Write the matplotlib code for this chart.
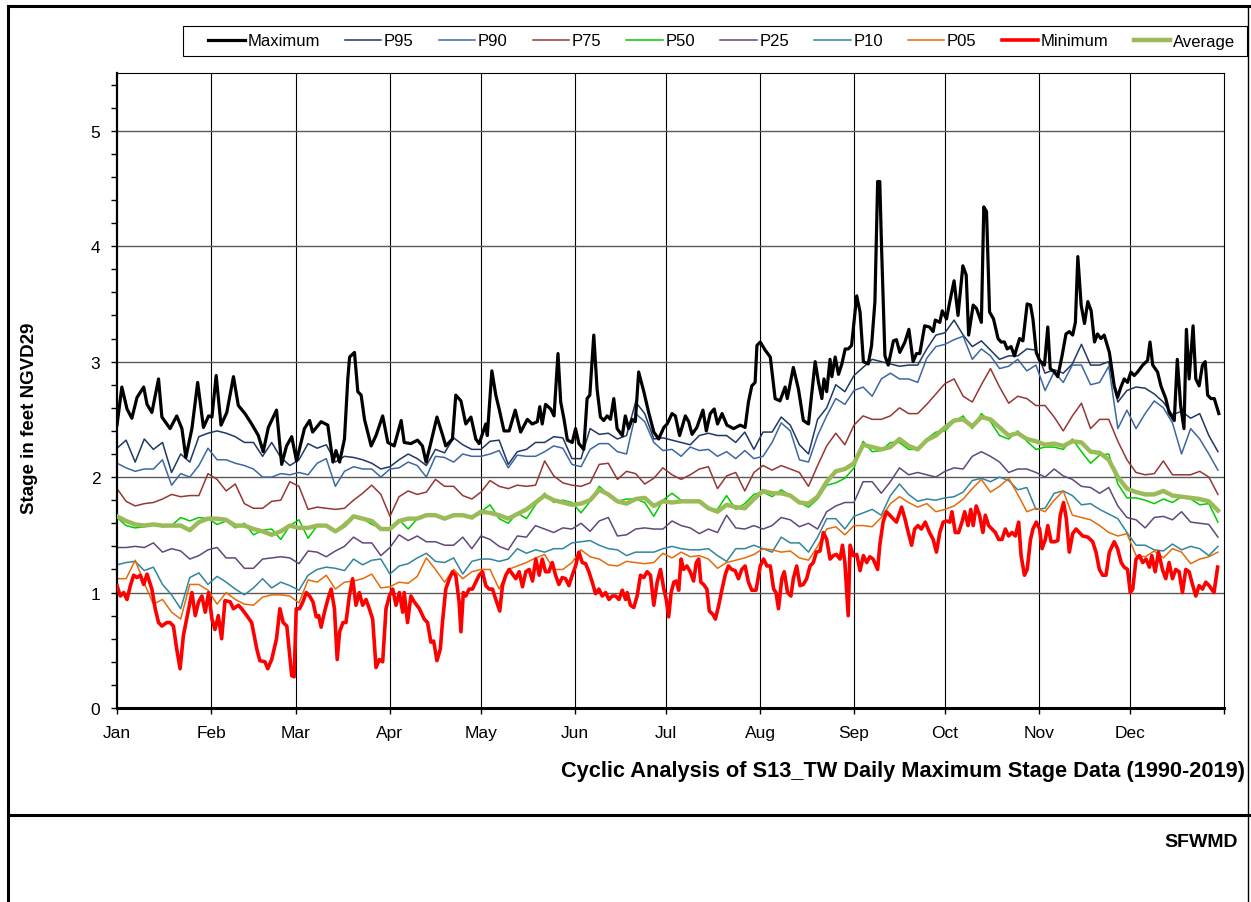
import numpy as np
import matplotlib
matplotlib.use("Agg")
import matplotlib.pyplot as plt
from matplotlib.lines import Line2D
from matplotlib.patches import Rectangle

plt.rcParams["font.family"] = ["Liberation Sans", "DejaVu Sans"]

# month tick positions (day of year) and labels
month_days = [0, 31, 59, 90, 120, 151, 181, 212, 243, 273, 304, 334]
month_labels = ["Jan", "Feb", "Mar", "Apr", "May", "Jun", "Jul", "Aug", "Sep", "Oct", "Nov", "Dec"]

# percentile curves, read every 3rd day (day 0, 3, ... 363)
grid_days = np.arange(0, 364, 3)

p95 = [2.25, 2.32, 2.13, 2.33, 2.24, 2.30, 2.04, 2.20, 2.13, 2.35, 2.38, 2.40, 2.38, 2.35, 2.30, 2.30, 2.18, 2.30, 2.17, 2.10, 2.15,
       2.29, 2.25, 2.28, 2.13, 2.18, 2.17, 2.15, 2.12, 2.07, 2.09, 2.15, 2.20, 2.16, 2.10, 2.24, 2.21, 2.34, 2.28, 2.24, 2.24,
       2.31, 2.32, 2.11, 2.22, 2.24, 2.30, 2.30, 2.35, 2.34, 2.16, 2.16, 2.42, 2.37, 2.38, 2.33, 2.36, 2.65, 2.55, 2.33, 2.34,
       2.32, 2.30, 2.28, 2.36, 2.38, 2.36, 2.36, 2.30, 2.39, 2.24, 2.39, 2.39, 2.52, 2.45, 2.28, 2.20, 2.50, 2.60, 2.80, 2.74, 2.88,
       2.95, 3.02, 3.00, 2.98, 2.96, 2.97, 2.97, 3.11, 3.23, 3.25, 3.36, 3.23, 3.13, 3.18, 3.10, 3.02, 3.05, 3.05, 3.11, 3.10, 2.90,
       2.93, 2.90, 2.98, 3.15, 2.97, 2.97, 3.00, 2.65, 2.75, 2.78, 2.77, 2.72, 2.65, 2.54, 2.57, 2.51, 2.55, 2.36, 2.22]

p90 = [2.12, 2.08, 2.05, 2.07, 2.07, 2.15, 1.93, 2.03, 2.00, 2.10, 2.25, 2.15, 2.15, 2.12, 2.10, 2.07, 2.00, 2.00, 2.03, 2.02, 2.04,
       2.02, 2.12, 2.16, 1.92, 2.05, 2.09, 2.07, 2.07, 2.00, 2.07, 2.08, 2.13, 2.10, 2.00, 2.18, 2.17, 2.13, 2.20, 2.18, 2.18,
       2.20, 2.23, 2.08, 2.19, 2.18, 2.18, 2.22, 2.27, 2.25, 2.11, 2.09, 2.24, 2.29, 2.29, 2.22, 2.20, 2.55, 2.48, 2.30, 2.23,
       2.24, 2.18, 2.26, 2.23, 2.24, 2.18, 2.22, 2.16, 2.23, 2.16, 2.18, 2.30, 2.47, 2.40, 2.15, 2.13, 2.36, 2.53, 2.68, 2.63, 2.75,
       2.78, 2.70, 2.85, 2.90, 2.85, 2.85, 2.82, 3.03, 3.13, 3.15, 3.19, 3.22, 3.02, 3.11, 3.05, 2.94, 2.96, 3.02, 2.92, 2.97, 2.75,
       2.91, 2.82, 2.97, 2.97, 2.80, 2.82, 2.96, 2.42, 2.58, 2.42, 2.55, 2.66, 2.60, 2.47, 2.20, 2.42, 2.33, 2.20, 2.06]

p75 = [1.90, 1.79, 1.75, 1.77, 1.78, 1.81, 1.85, 1.83, 1.84, 1.84, 2.03, 1.98, 1.88, 1.94, 1.77, 1.73, 1.73, 1.79, 1.80, 1.96, 1.92,
       1.72, 1.74, 1.73, 1.72, 1.73, 1.80, 1.86, 1.93, 1.85, 1.66, 1.83, 1.88, 1.85, 1.87, 1.98, 1.92, 1.92, 1.84, 1.81, 1.87,
       1.97, 1.92, 1.90, 1.93, 1.92, 1.93, 2.14, 2.01, 1.95, 1.93, 1.92, 1.95, 2.11, 2.12, 1.98, 2.05, 2.03, 1.94, 1.99, 2.08,
       2.02, 1.98, 2.02, 2.07, 2.09, 1.90, 2.01, 2.04, 1.88, 2.04, 2.10, 2.06, 2.10, 2.07, 2.04, 1.92, 2.10, 2.27, 2.38, 2.28, 2.45,
       2.53, 2.50, 2.50, 2.53, 2.60, 2.55, 2.55, 2.63, 2.72, 2.81, 2.85, 2.70, 2.65, 2.80, 2.94, 2.78, 2.64, 2.70, 2.68, 2.62, 2.62,
       2.52, 2.40, 2.53, 2.64, 2.42, 2.50, 2.50, 2.31, 2.15, 2.04, 2.02, 2.03, 2.14, 2.02, 2.02, 2.02, 2.05, 2.00, 1.85]

p50 = [1.65, 1.58, 1.56, 1.57, 1.59, 1.57, 1.58, 1.65, 1.62, 1.65, 1.64, 1.59, 1.62, 1.56, 1.60, 1.50, 1.54, 1.55, 1.46, 1.58, 1.63,
       1.47, 1.58, 1.58, 1.53, 1.60, 1.66, 1.64, 1.59, 1.56, 1.55, 1.63, 1.55, 1.64, 1.67, 1.67, 1.64, 1.66, 1.68, 1.64, 1.70,
       1.76, 1.64, 1.60, 1.69, 1.64, 1.76, 1.86, 1.78, 1.80, 1.78, 1.69, 1.79, 1.92, 1.85, 1.79, 1.81, 1.81, 1.78, 1.66, 1.80,
       1.86, 1.80, 1.79, 1.80, 1.72, 1.72, 1.84, 1.72, 1.77, 1.85, 1.87, 1.83, 1.89, 1.84, 1.78, 1.74, 1.81, 1.93, 1.95, 1.99, 2.08,
       2.31, 2.22, 2.23, 2.30, 2.30, 2.24, 2.24, 2.33, 2.39, 2.40, 2.48, 2.53, 2.42, 2.55, 2.48, 2.36, 2.33, 2.40, 2.31, 2.24, 2.26,
       2.26, 2.24, 2.33, 2.22, 2.12, 2.19, 2.20, 1.94, 1.82, 1.82, 1.80, 1.77, 1.81, 1.78, 1.83, 1.81, 1.76, 1.77, 1.61]

p25 = [1.39, 1.39, 1.40, 1.39, 1.43, 1.35, 1.38, 1.36, 1.29, 1.32, 1.37, 1.39, 1.30, 1.30, 1.21, 1.21, 1.29, 1.30, 1.31, 1.30, 1.25,
       1.36, 1.35, 1.31, 1.36, 1.40, 1.48, 1.43, 1.43, 1.32, 1.39, 1.50, 1.45, 1.49, 1.44, 1.44, 1.41, 1.41, 1.48, 1.38, 1.49,
       1.46, 1.40, 1.37, 1.49, 1.48, 1.58, 1.55, 1.52, 1.56, 1.55, 1.60, 1.53, 1.62, 1.65, 1.49, 1.50, 1.55, 1.56, 1.55, 1.55,
       1.62, 1.58, 1.56, 1.51, 1.55, 1.52, 1.67, 1.56, 1.55, 1.58, 1.55, 1.58, 1.65, 1.63, 1.57, 1.60, 1.55, 1.70, 1.75, 1.78, 1.78,
       1.96, 1.96, 1.86, 1.96, 2.08, 2.02, 2.04, 2.02, 2.00, 2.05, 2.08, 2.07, 2.18, 2.22, 2.18, 2.13, 2.04, 2.07, 2.07, 2.04, 2.00,
       2.07, 2.01, 1.98, 1.92, 1.91, 1.86, 1.91, 1.75, 1.65, 1.63, 1.56, 1.65, 1.66, 1.63, 1.70, 1.61, 1.60, 1.59, 1.48]

p10 = [1.24, 1.26, 1.27, 1.19, 1.22, 1.07, 0.98, 0.86, 1.13, 1.17, 1.07, 1.14, 1.09, 1.03, 0.98, 1.04, 1.12, 1.04, 1.09, 1.06, 1.02,
       1.15, 1.20, 1.22, 1.21, 1.19, 1.29, 1.24, 1.28, 1.29, 1.16, 1.23, 1.25, 1.30, 1.34, 1.27, 1.26, 1.30, 1.16, 1.27, 1.29,
       1.29, 1.27, 1.29, 1.38, 1.34, 1.37, 1.35, 1.38, 1.38, 1.43, 1.44, 1.45, 1.41, 1.38, 1.37, 1.32, 1.35, 1.35, 1.35, 1.38,
       1.40, 1.38, 1.37, 1.37, 1.38, 1.32, 1.27, 1.38, 1.38, 1.41, 1.38, 1.35, 1.48, 1.43, 1.43, 1.35, 1.48, 1.64, 1.64, 1.55, 1.66,
       1.69, 1.72, 1.67, 1.84, 1.94, 1.85, 1.79, 1.81, 1.80, 1.82, 1.83, 1.87, 1.97, 1.99, 1.96, 2.00, 1.97, 1.89, 1.91, 1.72, 1.73,
       1.86, 1.88, 1.84, 1.76, 1.77, 1.72, 1.68, 1.64, 1.52, 1.41, 1.41, 1.37, 1.36, 1.42, 1.37, 1.40, 1.38, 1.32, 1.40]

p05 = [1.12, 1.12, 1.28, 1.08, 0.90, 0.94, 0.83, 0.77, 1.07, 1.07, 1.02, 0.90, 1.00, 0.94, 0.90, 0.89, 0.96, 0.98, 0.98, 0.97, 0.91,
       1.11, 1.09, 1.15, 1.03, 1.09, 1.10, 1.12, 1.16, 1.04, 1.05, 1.09, 1.08, 1.14, 1.30, 1.20, 1.09, 1.20, 1.12, 1.18, 1.20,
       1.20, 1.03, 1.20, 1.23, 1.26, 1.30, 1.33, 1.20, 1.20, 1.26, 1.37, 1.31, 1.29, 1.24, 1.23, 1.27, 1.26, 1.25, 1.26, 1.34,
       1.30, 1.35, 1.31, 1.32, 1.29, 1.21, 1.26, 1.28, 1.30, 1.33, 1.38, 1.37, 1.35, 1.36, 1.30, 1.28, 1.40, 1.55, 1.57, 1.50, 1.58,
       1.58, 1.57, 1.65, 1.77, 1.83, 1.78, 1.74, 1.77, 1.70, 1.72, 1.75, 1.81, 1.90, 1.98, 1.87, 1.92, 1.99, 1.85, 1.70, 1.73, 1.70,
       1.80, 1.88, 1.67, 1.65, 1.63, 1.58, 1.52, 1.49, 1.51, 1.32, 1.31, 1.36, 1.30, 1.38, 1.35, 1.25, 1.29, 1.31, 1.35]

average = [1.66, 1.62, 1.59, 1.58, 1.59, 1.58, 1.58, 1.58, 1.54, 1.61, 1.64, 1.64, 1.63, 1.58, 1.58, 1.55, 1.53, 1.50, 1.53, 1.58, 1.56,
           1.56, 1.58, 1.58, 1.53, 1.58, 1.66, 1.64, 1.62, 1.55, 1.55, 1.62, 1.64, 1.64, 1.67, 1.67, 1.64, 1.67, 1.67, 1.65, 1.70,
           1.69, 1.67, 1.64, 1.68, 1.72, 1.78, 1.84, 1.80, 1.78, 1.76, 1.77, 1.80, 1.89, 1.85, 1.79, 1.77, 1.81, 1.82, 1.75, 1.79,
           1.78, 1.79, 1.79, 1.79, 1.73, 1.70, 1.76, 1.74, 1.73, 1.81, 1.88, 1.86, 1.86, 1.84, 1.78, 1.77, 1.83, 1.96, 2.05, 2.07, 2.12,
           2.28, 2.26, 2.24, 2.26, 2.33, 2.27, 2.24, 2.32, 2.36, 2.43, 2.49, 2.50, 2.44, 2.52, 2.50, 2.43, 2.36, 2.38, 2.33, 2.31, 2.28,
           2.29, 2.27, 2.31, 2.30, 2.22, 2.21, 2.15, 2.00, 1.90, 1.87, 1.85, 1.85, 1.88, 1.84, 1.83, 1.82, 1.81, 1.79, 1.71]

# maximum and minimum, read at their turning points
max_days = [0, 1.6, 3.3, 4.9, 6.6, 8.8, 9.9, 11.5, 13.7, 14.8, 17.5, 19.7, 21.4, 22.7, 24.7, 26.6, 28.5, 30.2, 31.3, 32.7,
            34.3, 36.2, 38.4, 40.0, 42.2, 44.4, 46.6, 48.2, 49.9, 52.6, 54.3, 55.9, 57.6, 59.2,
            61.8, 63.5, 64.5, 67.3, 69.5, 71.2, 72.2, 73.4, 75.0, 76.1, 76.7, 78.3, 79.4, 80.5, 81.6, 83.8, 85.4, 87.6,
            89.3, 91.4, 93.7, 94.7, 96.9, 99.1, 100.7, 101.9, 103.5, 105.5, 107.4, 108.4, 110.6, 111.7, 113.4, 115.0,
            116.7, 118.3,
            119.4, 121.6, 122.1, 123.6, 124.9, 126.0, 127.6, 129.3, 131.3, 133.1, 135.3, 136.9, 138.6, 139.4, 140.2,
            141.3, 143.0, 144.1, 145.4, 146.3, 147.4, 148.5, 150.1, 151.2, 152.3, 153.9, 155.0, 155.9, 157.2, 158.3,
            159.4, 160.5, 161.6, 162.7, 163.8, 164.9, 166.6, 167.6, 168.7, 169.8, 170.9, 172.0, 173.7, 175.3, 177.0, 178.6,
            180.3, 181.4, 183.0, 184.1, 185.5, 187.4, 188.5, 189.6, 191.2, 193.2, 194.3, 195.6, 196.9, 198.0, 199.5,
            201.1, 203.3, 205.5, 207.1, 208.2, 209.3, 210.4, 211.0, 212.1, 213.7, 215.4, 217.0, 218.6, 220.3, 221.0,
            223.0, 224.7, 226.3, 228.0, 230.2, 231.3, 232.4, 233.1, 234.0, 235.1, 235.7, 236.8, 237.9, 239.0, 240.1,
            241.1, 242.2, 243.9, 245.0, 246.1, 247.7, 248.8, 249.9, 250.8, 251.5, 252.1, 253.2, 254.3, 256.0, 257.0,
            258.1, 259.8, 261.1, 262.5, 263.6, 264.7, 266.3, 267.9, 269.1, 269.8, 271.3, 272.1, 273.5, 274.6, 276.0,
            277.3, 278.9, 280.0, 280.8, 282.3, 283.4, 285.0, 285.8, 286.7, 287.7, 289.0, 290.5, 291.5, 292.6, 293.5,
            294.8, 295.9, 297.6, 298.7, 300.1, 301.2,
            302.0, 303.1, 304.2, 305.8, 306.9, 307.7, 309.1, 310.2, 311.6, 312.9, 314.0, 315.1, 316.0, 316.8, 317.9,
            319.0, 320.1, 321.2, 322.3, 323.3, 324.4, 325.5, 327.2, 328.8, 329.9, 331.0, 332.1, 333.2, 334.3, 335.4,
            336.5, 338.2, 339.8, 340.6, 341.5, 343.1, 344.2, 345.8, 346.9, 348.6, 349.6, 350.7, 351.8, 352.6, 353.5,
            354.8, 355.7, 356.8, 357.9, 358.8, 359.6, 360.7, 361.8, 363.3]
max_vals = [2.45, 2.78, 2.59, 2.51, 2.69, 2.78, 2.63, 2.56, 2.85, 2.52, 2.42, 2.53, 2.42, 2.17, 2.42, 2.82, 2.43, 2.53, 2.52, 2.88,
            2.45, 2.56, 2.87, 2.62, 2.55, 2.46, 2.36, 2.22, 2.43, 2.58, 2.11, 2.27, 2.35, 2.14,
            2.42, 2.49, 2.39, 2.48, 2.45, 2.13, 2.23, 2.13, 2.33, 2.85, 3.04, 3.08, 2.74, 2.71, 2.50, 2.27, 2.36, 2.53,
            2.30, 2.27, 2.49, 2.30, 2.29, 2.32, 2.27, 2.13, 2.30, 2.52, 2.36, 2.27, 2.33, 2.71, 2.66, 2.46,
            2.52, 2.33,
            2.29, 2.46, 2.36, 2.92, 2.71, 2.59, 2.40, 2.40, 2.58, 2.39, 2.50, 2.46, 2.48, 2.61, 2.46,
            2.63, 2.59, 2.53, 3.07, 2.65, 2.50, 2.32, 2.30, 2.42, 2.29, 2.24, 2.68, 2.71, 3.23, 2.76,
            2.52, 2.49, 2.53, 2.50, 2.68, 2.42, 2.36, 2.53, 2.42, 2.50, 2.48, 2.91, 2.74, 2.56, 2.39, 2.33,
            2.43, 2.46, 2.55, 2.53, 2.36, 2.53, 2.48, 2.37, 2.43, 2.58, 2.40, 2.55, 2.59, 2.46, 2.55,
            2.45, 2.42, 2.45, 2.43, 2.65, 2.79, 2.82, 3.14, 3.17, 3.10, 3.04, 2.68, 2.66, 2.78, 2.68,
            2.95, 2.76, 2.49, 2.46, 3.00, 2.82, 2.68, 2.85, 2.74, 3.02, 2.87, 3.04, 2.89, 2.98, 3.11,
            3.11, 3.14, 3.57, 3.43, 3.00, 2.98, 3.14, 3.52, 4.56, 4.56, 3.98, 3.05, 2.97, 3.18, 3.19,
            3.08, 3.17, 3.28, 3.00, 3.07, 3.07, 3.31, 3.30, 3.26, 3.36, 3.34, 3.44, 3.37, 3.52, 3.70,
            3.40, 3.83, 3.75, 3.23, 3.49, 3.46, 3.34, 4.34, 4.30, 3.43, 3.37, 3.20, 3.17, 3.17, 3.11,
            3.13, 3.05, 3.20, 3.18, 3.50, 3.49,
            3.37, 3.08, 3.01, 2.97, 3.30, 2.94, 2.91, 2.87, 3.05, 3.24, 3.26, 3.23, 3.34, 3.91, 3.49,
            3.33, 3.52, 3.44, 3.17, 3.24, 3.20, 3.23, 3.08, 2.79, 2.69, 2.78, 2.85, 2.82, 2.91, 2.88,
            2.91, 2.97, 3.01, 3.17, 2.97, 2.91, 2.79, 2.68, 2.56, 2.49, 3.02, 2.62, 2.42, 3.28, 2.85,
            3.31, 2.85, 2.79, 2.97, 3.00, 2.71, 2.68, 2.68, 2.55]

min_days = [0, 1.1, 2.2, 3.3, 4.4, 5.5, 6.6, 7.7, 8.8, 9.9, 11.5, 12.6, 13.7, 14.8, 16.4, 17.5, 18.6, 19.7, 20.8, 21.9,
            23.4, 24.7, 25.8, 26.9, 28.0, 29.1, 30.2, 31.3, 32.3, 33.4, 34.5, 35.6, 37.3, 38.4, 40.0, 41.1, 42.8, 44.4,
            46.1, 47.1, 48.8, 49.7, 51.0, 52.6, 53.7, 54.8, 56.0, 57.6, 58.4,
            59.1, 60.2, 61.3, 62.4, 63.5, 64.6, 65.7, 66.5, 67.3, 68.4, 69.5, 70.6, 71.7, 72.6, 73.4, 74.5, 75.5, 76.6,
            77.7, 78.8, 79.9, 81.0, 82.1, 83.2, 84.3, 85.4, 86.5, 87.6, 88.7, 89.8, 90.9, 92.0, 93.1, 94.2, 94.7, 95.8,
            96.9, 98.0, 99.7, 101.3, 102.4, 103.5, 104.4, 105.5, 106.6, 107.3, 108.4, 109.6, 110.6, 111.7, 112.8, 113.4,
            114.2, 115.0, 116.1, 117.2, 118.3, 119.4,
            120.5, 121.6, 122.7, 123.8, 124.9, 126.2, 127.1, 128.2, 129.3, 130.4, 131.5, 132.6, 133.7, 134.8, 135.9,
            137.0, 138.1, 139.2, 140.2, 141.3, 142.4, 143.5, 144.6, 145.7, 146.8, 147.9, 149.0, 150.1, 151.2, 152.3,
            153.4, 154.5, 155.6, 156.7, 157.8, 158.9, 160.0, 161.1, 162.2, 163.3, 164.4, 165.5, 166.6, 167.7, 168.2,
            169.3, 170.4, 171.5, 172.6, 173.7, 174.8, 175.9, 177.0, 178.1, 179.2, 180.3,
            181.1, 181.9, 182.7, 183.6, 184.4, 185.2, 186.0, 186.8, 187.9, 189.0, 190.1, 191.0, 191.8, 192.5, 193.4,
            194.5, 195.3, 196.5, 197.3, 198.4, 199.5, 200.6, 201.6, 202.7, 203.8, 204.9, 206.0, 207.1, 208.2, 209.3,
            210.7, 212.1, 213.2, 214.3, 215.4, 216.5, 217.3, 218.1, 219.2, 220.0, 221.1, 222.2, 223.0, 224.1, 225.2,
            226.3, 227.4, 228.5, 229.6, 230.6, 231.8, 232.9, 234.0, 235.1, 236.2, 237.2, 238.4, 239.2, 240.0, 241.1,
            241.7, 242.8, 243.9, 245.0, 246.1, 247.2, 248.2, 249.3, 250.8, 251.5, 252.6, 253.7, 254.8, 255.9, 257.0,
            258.7, 259.8, 260.9, 262.0, 263.0, 264.1, 265.2, 266.5, 267.9, 269.1, 270.2, 271.3, 272.4, 273.5, 274.6,
            275.3, 276.4, 277.5, 278.6, 279.5, 280.6, 281.5, 282.3, 283.3, 284.4, 285.5, 286.3, 287.4, 288.5, 289.6,
            290.7, 291.8, 292.9, 294.0, 295.1, 296.2, 297.3, 298.1, 299.2, 300.1, 301.2,
            302.0, 303.1, 304.2, 305.0, 306.1, 306.9, 308.0, 309.1, 310.2, 311.0, 312.1, 313.0, 314.0, 315.1, 316.2,
            317.3, 318.4, 320.1, 321.7, 322.8, 323.9, 325.0, 326.1, 327.2, 328.8, 329.9, 331.1, 332.1, 333.2, 334.1,
            334.9, 336.0, 337.1, 338.2, 339.3, 340.4, 341.2, 342.3, 343.4, 344.7, 345.8, 346.9, 348.0, 349.1, 350.2,
            351.3, 352.4, 353.5, 354.4, 355.7, 356.8, 357.9, 359.0, 360.1, 361.7, 362.9]
min_vals = [1.06, 0.97, 1.00, 0.94, 1.06, 1.15, 1.13, 1.15, 1.07, 1.16, 1.03, 0.86, 0.74, 0.71, 0.74, 0.74, 0.71, 0.51, 0.34, 0.63,
            0.83, 1.00, 0.80, 0.92, 0.97, 0.83, 1.00, 0.77, 0.68, 0.80, 0.60, 0.93, 0.92, 0.86, 0.89, 0.86, 0.80, 0.74,
            0.51, 0.41, 0.40, 0.34, 0.42, 0.60, 0.86, 0.74, 0.71, 0.28, 0.27,
            0.86, 0.86, 0.92, 1.00, 0.97, 0.92, 0.79, 0.80, 0.70, 0.83, 0.94, 1.03, 0.86, 0.42, 0.66, 0.74, 0.74, 0.97,
            1.12, 0.89, 1.00, 0.89, 0.94, 0.86, 0.77, 0.35, 0.42, 0.40, 0.86, 0.97, 1.03, 0.89, 1.00, 0.83, 1.00, 0.74,
            0.97, 0.92, 0.86, 0.77, 0.74, 0.57, 0.58, 0.41, 0.51, 0.74, 1.03, 1.12, 1.18, 1.15, 0.92, 0.66,
            1.00, 0.97, 1.03, 1.03, 1.09, 1.15,
            1.18, 1.06, 1.03, 1.03, 0.94, 0.84, 1.06, 1.15, 1.20, 1.16, 1.12, 1.18, 1.05, 1.18, 1.20,
            1.10, 1.29, 1.15, 1.29, 1.18, 1.18, 1.26, 1.15, 1.07, 1.13, 1.12, 1.06, 1.15, 1.23, 1.35,
            1.26, 1.25, 1.18, 1.09, 0.99, 1.03, 0.97, 1.00, 0.94, 0.97, 0.97, 0.94, 1.02, 0.94, 1.00,
            0.89, 0.87, 0.97, 1.15, 1.13, 1.18, 1.15, 0.89, 1.09, 1.20, 1.03,
            0.94, 0.79, 1.00, 1.09, 1.10, 1.02, 1.29, 1.20, 1.23, 1.18, 1.10, 1.26, 1.29, 1.09, 1.07,
            1.03, 0.84, 0.81, 0.77, 0.89, 1.03, 1.16, 1.23, 1.20, 1.19, 1.12, 1.20, 1.23, 1.09, 1.02,
            1.02, 1.23, 1.29, 1.23, 1.23, 1.03, 1.00, 0.86, 1.12, 1.18, 1.00, 0.97, 1.12, 1.23, 1.06,
            1.07, 1.12, 1.23, 1.26, 1.35, 1.36, 1.52, 1.46, 1.29, 1.32, 1.33, 1.29, 1.41, 1.26, 0.80,
            1.41, 1.32, 1.33, 1.19, 1.32, 1.26, 1.31, 1.29, 1.20, 1.41, 1.61, 1.70, 1.67, 1.64, 1.61,
            1.74, 1.64, 1.52, 1.41, 1.55, 1.58, 1.55, 1.61, 1.52, 1.46, 1.35, 1.52, 1.61, 1.62, 1.61,
            1.70, 1.52, 1.52, 1.61, 1.70, 1.58, 1.72, 1.58, 1.75, 1.67, 1.52, 1.67, 1.58, 1.55, 1.52,
            1.46, 1.46, 1.55, 1.49, 1.52, 1.49, 1.61, 1.32, 1.15, 1.20, 1.46,
            1.55, 1.61, 1.55, 1.38, 1.46, 1.58, 1.44, 1.44, 1.45, 1.67, 1.78, 1.64, 1.35, 1.51, 1.55,
            1.52, 1.49, 1.48, 1.44, 1.35, 1.20, 1.15, 1.15, 1.35, 1.44, 1.38, 1.26, 1.22, 1.20, 1.00,
            1.03, 1.29, 1.32, 1.26, 1.29, 1.22, 1.32, 1.18, 1.35, 1.20, 1.12, 1.26, 1.12, 1.20, 1.18,
            1.00, 1.20, 1.18, 1.09, 0.97, 1.06, 1.03, 1.09, 1.06, 1.00, 1.22]

W, H = 1251, 903
fig = plt.figure(figsize=(W / 100, H / 100), dpi=100)
ax = fig.add_axes([117 / W, 1 - 709 / H, (1224 - 117) / W, (709 - 74) / H])

l_max, = ax.plot(max_days, max_vals, color="black", lw=2.3, label="Maximum", zorder=3)
l_p95, = ax.plot(grid_days, p95, color="#1f3864", lw=1.1, label="P95", zorder=2)
l_p90, = ax.plot(grid_days, p90, color="#3d67a3", lw=1.1, label="P90", zorder=2)
l_p75, = ax.plot(grid_days, p75, color="#953735", lw=1.1, label="P75", zorder=2)
l_p50, = ax.plot(grid_days, p50, color="#00cc00", lw=1.1, label="P50", zorder=2)
l_p25, = ax.plot(grid_days, p25, color="#60497a", lw=1.1, label="P25", zorder=2)
l_p10, = ax.plot(grid_days, p10, color="#31859c", lw=1.1, label="P10", zorder=2)
l_p05, = ax.plot(grid_days, p05, color="#e46c0a", lw=1.1, label="P05", zorder=2)
l_min, = ax.plot(min_days, min_vals, color="#ff0000", lw=2.6, label="Minimum", zorder=3)
l_avg, = ax.plot(grid_days, average, color="#9bbb59", lw=3.2, label="Average", zorder=4)

ax.set_xlim(0, 365)
ax.set_ylim(0, 5.5)
ax.set_xticks(month_days + [365])
ax.set_xticklabels(month_labels + [""], fontsize=12.5)
ax.set_yticks(range(6))
ax.set_yticklabels([str(i) for i in range(6)], fontsize=12.5)
ax.set_yticks(np.arange(0, 5.5, 0.2), minor=True)
ax.tick_params(axis="x", direction="out", length=4, width=1, pad=8)
ax.tick_params(axis="y", which="major", direction="out", length=4, width=1, pad=8)
ax.tick_params(axis="y", which="minor", direction="out", length=4, width=1)

for d in month_days[1:]:
    ax.axvline(d, color="black", lw=0.8, zorder=1)
for v in range(1, 6):
    ax.axhline(v, color="#5a5a5a", lw=1.0, zorder=1)

ax.spines["left"].set_linewidth(1.6)
ax.spines["bottom"].set_linewidth(2.2)
ax.spines["top"].set_linewidth(0.8)
ax.spines["right"].set_linewidth(0.8)

fig.text(30 / W, 1 - 418 / H, "Stage in feet NGVD29", rotation=90, ha="center", va="center",
         fontsize=13.5, fontweight="bold")
fig.text(1245 / W, 1 - 771 / H, "Cyclic Analysis of S13_TW Daily Maximum Stage Data (1990-2019)",
         ha="right", va="center", fontsize=15.7, fontweight="bold")
fig.text(1238 / W, 1 - 843 / H, "SFWMD", ha="right", va="center", fontsize=14, fontweight="bold")

# outer frame and divider
for xs, ys, lw in [([8 / W, 1], [1 - 7 / H, 1 - 7 / H], 2.2),
                   ([8 / W, 8 / W], [1 - 7 / H, 0], 2.2),
                   ([1248 / W, 1248 / W], [1 - 7 / H, 0], 1.0),
                   ([8 / W, 1], [1 - 816 / H, 1 - 816 / H], 2.2)]:
    fig.add_artist(Line2D(xs, ys, color="black", lw=lw, transform=fig.transFigure))

# legend box
fig.add_artist(Rectangle((183 / W, 1 - 57 / H), (1247 - 183) / W, 30 / H, transform=fig.transFigure,
                         fill=False, edgecolor="black", lw=0.8))
handles = [l_max, l_p95, l_p90, l_p75, l_p50, l_p25, l_p10, l_p05, l_min, l_avg]
fig.legend(handles=handles, labels=[h.get_label() for h in handles], ncol=10,
           loc="center left", bbox_to_anchor=(208 / W, 1 - 42 / H), borderaxespad=0, borderpad=0,
           fontsize=12, handlelength=2.2, handletextpad=0.15, columnspacing=1.5, frameon=False)

fig.savefig("out.png", dpi=100)
